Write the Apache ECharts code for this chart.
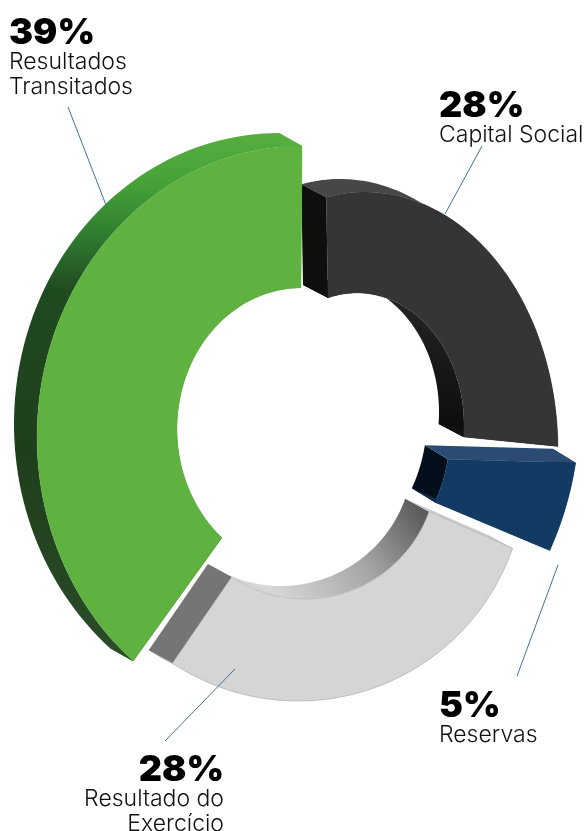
<!DOCTYPE html>
<html>
<head>
<meta charset="utf-8">
<style>
  html, body { margin: 0; padding: 0; background: #fff; }
  #chart { width: 586px; height: 831px; }
</style>
<script src="https://cdn.jsdelivr.net/npm/echarts@6/dist/echarts.min.js"></script>
</head>
<body>
<div id="chart"></div>
<script>
// values
const categories = ["Capital Social", "Reservas", "Resultado do Exercício", "Resultados Transitados"];
const values = [28, 5, 28, 39];
const labelLines = [["Capital Social"], ["Reservas"], ["Resultado do", "Exercício"], ["Resultados", "Transitados"]];

// each slice is a tilted ring: outer and inner ellipse, extrusion vector, colours
const G = (x0, y0, x1, y1, stops) =>
  new echarts.graphic.LinearGradient(x0, y0, x1, y1,
    stops.map(c => ({ offset: c[0], color: c[1] })), true);

const shapes = [
  {
    outer: { cx: 365, cy: 450, rx: 193, ry: 258, turn: -11.6, stretch: 1 },
    inner: { cx: 357, cy: 425, rx: 107, ry: 132, turn: -10.65, stretch: 1.1 },
    depth: [-25, -13],
    front: "#353535", outerSide: "#474747", innerSide: G(0, 310, 0, 440, [[0, "#222222"], [1, "#0b0b0b"]]),
    startSide: "#0e0f0d", endSide: "#111111"
  },
  {
    outer: { cx: 335, cy: 407, rx: 245, ry: 298, turn: 0, stretch: 1 },
    inner: { cx: 327, cy: 432, rx: 123, ry: 146, turn: 0, stretch: 1 },
    depth: [-23, -14],
    front: "#123a62", outerSide: "#123a62", innerSide: "#050f1c",
    startSide: "#2b4b72", endSide: "#0d2c4c"
  },
  {
    outer: { cx: 298, cy: 474, rx: 227, ry: 227, turn: -7.9, stretch: 1.036 },
    inner: { cx: 305, cy: 467, rx: 132, ry: 132, turn: -7.5, stretch: 1.03 },
    depth: [-24, -13],
    front: "#d5d5d5", outerSide: "#c4c4c4",
    innerSide: G(415, 505, 280, 600, [[0, "#5c5c5c"], [0.45, "#a5a5a5"], [1, "#d6d6d6"]]),
    startSide: "#c9c9c9", endSide: "#757575", edge: "#b8b8b8"
  },
  {
    outer: { cx: 302, cy: 437, rx: 265, ry: 291, turn: 0, stretch: 1 },
    inner: { cx: 301, cy: 429, rx: 124, ry: 141, turn: 0, stretch: 1 },
    depth: [-23, -13],
    front: "#5fb240",
    outerSide: G(0, 132, 0, 662, [[0, "#57ae40"], [0.1, "#45a137"], [0.2, "#2e7a30"], [0.3, "#1f4a20"], [0.6, "#1f3f1c"], [1, "#2b4c28"]]),
    innerSide: "#4a8f33", startSide: "#2b4c28", endSide: "#57ae40"
  }
];

// label anchors: x, align, baseline of the percent, leader line ends
const labelPos = [
  { x: 439, align: "left", y: 116, leader: [[482, 146], [445, 214]] },
  { x: 439, align: "left", y: 716, leader: [[558, 565], [517, 676]] },
  { x: 224, align: "right", y: 780, leader: [[235, 669], [165, 741]] },
  { x: 9, align: "left", y: 43, leader: [[68, 107], [106, 205]] }
];

const total = values.reduce((a, b) => a + b, 0);
const STEPS = 80;

function arcPoints(ring, a0, a1) {
  const mid = (a0 + a1) / 2;
  const pts = [];
  for (let i = 0; i <= STEPS; i++) {
    const a = a0 + (a1 - a0) * i / STEPS;
    const t = (mid + ring.turn + (a - mid) * ring.stretch) * Math.PI / 180;
    pts.push([ring.cx + ring.rx * Math.sin(t), ring.cy - ring.ry * Math.cos(t)]);
  }
  return pts;
}

function strip(pts, depth, fill) {
  const back = pts.map(p => [p[0] + depth[0], p[1] + depth[1]]).reverse();
  return { type: "polygon", shape: { points: pts.concat(back) }, style: { fill: fill }, silent: true };
}

function renderSlice(params, api) {
  const i = params.dataIndex;
  const v = api.value(0);
  const before = values.slice(0, i).reduce((a, b) => a + b, 0);
  const a0 = before / total * 360;
  const a1 = a0 + v / total * 360;
  const s = shapes[i];
  const pos = labelPos[i];
  const out = arcPoints(s.outer, a0, a1);
  const inn = arcPoints(s.inner, a0, a1);
  const children = [
    strip(out, s.depth, s.outerSide),
    strip(inn, s.depth, s.innerSide),
    strip([out[0], inn[0]], s.depth, s.startSide),
    strip([out[STEPS], inn[STEPS]], s.depth, s.endSide),
    {
      type: "polygon",
      shape: { points: out.concat(inn.slice().reverse()) },
      style: { fill: s.front, stroke: s.edge || s.front, lineWidth: s.edge ? 0.8 : 0.3 },
      silent: true
    },
    {
      type: "line",
      shape: { x1: pos.leader[0][0], y1: pos.leader[0][1], x2: pos.leader[1][0], y2: pos.leader[1][1] },
      style: { stroke: "#3f7199", lineWidth: 1 },
      silent: true
    },
    {
      type: "text",
      x: pos.x, y: pos.y + 8,
      style: {
        text: v + "%", textAlign: pos.align, textVerticalAlign: "bottom",
        font: "900 36px Inter", fill: "#000"
      },
      silent: true
    }
  ];
  labelLines[i].forEach((line, k) => {
    children.push({
      type: "text",
      x: pos.x, y: pos.y + 25 * (k + 1) + 6,
      style: {
        text: line, textAlign: pos.align, textVerticalAlign: "bottom",
        font: "300 23px Inter", fill: "#111"
      },
      silent: true
    });
  });
  return { type: "group", children: children };
}

const chart = echarts.init(document.getElementById("chart"), null, { renderer: "canvas" });
chart.setOption({
  animation: false,
  backgroundColor: "#fff",
  series: [{
    type: "custom",
    coordinateSystem: "none",
    renderItem: renderSlice,
    data: values.map((v, i) => ({ name: categories[i], value: [v] }))
  }]
});
</script>
</body>
</html>
